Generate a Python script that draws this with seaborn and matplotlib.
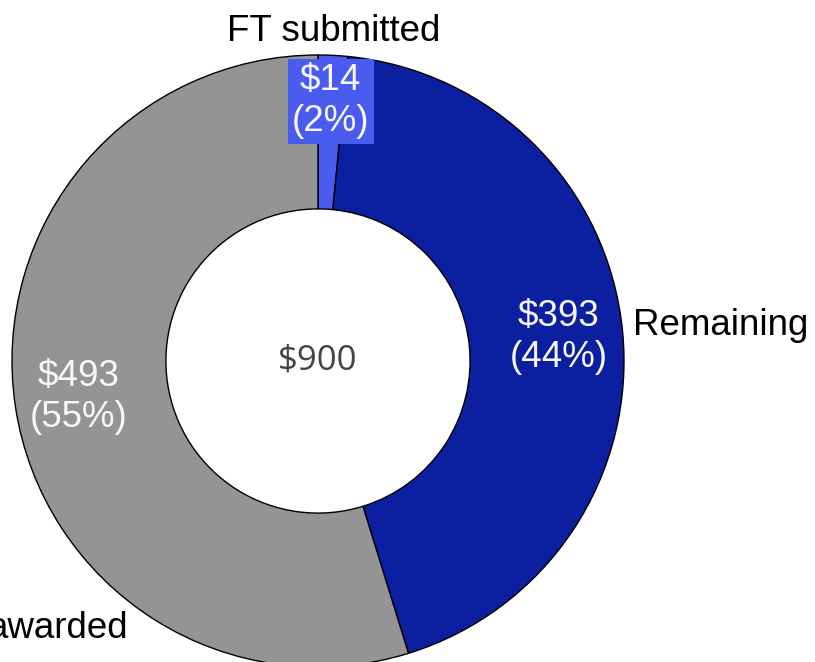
import numpy as np
import matplotlib
matplotlib.use("Agg")
import matplotlib.pyplot as plt
import seaborn as sns

# Data
categories = ["FT submitted", "Remaining", "awarded"]
values = [14, 393, 493]
total_label = "$900"

colors = ["#4a5bf0", "#0b1fa0", "#949494"]
value_dist = [0.85, 0.79, 0.79]   # radial position of value labels (fraction of R)

sns.set_theme(style="white")
plt.rcParams["font.family"] = ["Liberation Sans", "DejaVu Sans"]

W, H = 815, 662
R_px = 306.0
cx, cy = 318.0, 361.0

fig = plt.figure(figsize=(W / 100, H / 100), dpi=100)
ax = fig.add_axes([0, 0, 1, 1])

wedges, _ = ax.pie(
    values,
    colors=colors,
    startangle=90,
    counterclock=False,
    radius=1.0,
    wedgeprops=dict(width=0.503, edgecolor="black", linewidth=1.0),
)

# pie() resets limits, so set the view afterwards
ax.set_xlim(-cx / R_px, (W - cx) / R_px)
ax.set_ylim(-(H - cy) / R_px, cy / R_px)
ax.set_aspect("equal")
ax.axis("off")

total = sum(values)
fs = 26.5
cum = 0
for i, (cat, v) in enumerate(zip(categories, values)):
    mid = (cum + v / 2) / total * 2 * np.pi  # clockwise from top
    cum += v
    pct = round(v / total * 100)
    r = value_dist[i]
    x, y = r * np.sin(mid), r * np.cos(mid)
    box = None
    if i == 0:
        box = dict(boxstyle="square,pad=0.12", facecolor=colors[0], edgecolor="none")
    ax.text(x, y, f"${v}\n({pct}%)", ha="center", va="center", fontsize=fs,
            color="#f7f7f7", linespacing=1.22, bbox=box)

    # outer category labels
    if i == 0:
        ax.text(1.078 * np.sin(mid), 1.078 * np.cos(mid), cat, ha="center",
                va="center", fontsize=fs, color="black")
    elif i == 1:
        ax.text(1.035 * np.sin(mid), 1.035 * np.cos(mid) + 0.01, cat, ha="left",
                va="center", fontsize=fs, color="black")
    else:
        ang = np.deg2rad(215.4)
        ax.text(1.071 * np.sin(ang), 1.071 * np.cos(ang), cat, ha="right",
                va="center", fontsize=fs, color="black")

ax.text(0, 0.0, total_label, ha="center", va="center", fontsize=25,
        color="#444444", family=["Open Sans", "DejaVu Sans"])

fig.savefig("out.png", dpi=100)
plt.close(fig)
